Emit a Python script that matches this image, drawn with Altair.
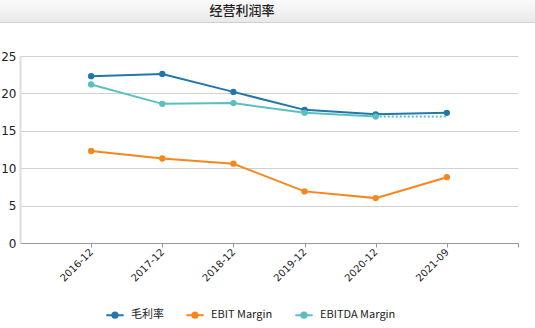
import altair as alt
import pandas as pd

periods = ["2016-12", "2017-12", "2018-12", "2019-12", "2020-12", "2021-09"]
gross = [22.3, 22.6, 20.2, 17.8, 17.2, 17.4]
ebit = [12.3, 11.3, 10.6, 6.9, 6.0, 8.8]
ebitda = [21.2, 18.6, 18.7, 17.4, 16.9, None]
series_names = ["毛利率", "EBIT Margin", "EBITDA Margin"]
colors = ["#2277a9", "#f7861c", "#5bbfbf"]

rows = []
for name, vals in zip(series_names, [gross, ebit, ebitda]):
    for i, (p, v) in enumerate(zip(periods, vals)):
        if v is not None:
            rows.append({"series": name, "idx": i + 1, "period": p, "value": v})
df = pd.DataFrame(rows)

# dotted carry-forward for the missing last EBITDA value
last_i = max(i for i, v in enumerate(ebitda) if v is not None)
dot_df = pd.DataFrame({
    "idx": [last_i + 1, len(periods)],
    "value": [ebitda[last_i], ebitda[last_i]],
})

label_expr = "[" + ",".join(f"'{p}'" for p in periods) + ",''][datum.value-1]"

W, H = 498, 187
font = "Noto Sans CJK SC"
num_font = "DejaVu Sans"

x = alt.X("idx:Q", scale=alt.Scale(domain=[0, 7], nice=False, zero=False),
          axis=alt.Axis(values=[1, 2, 3, 4, 5, 6, 7], labelExpr=label_expr,
                        labelAngle=-45, labelAlign="right", labelBaseline="middle",
                        labelFontSize=10, labelColor="#222", labelFont=num_font,
                        domainColor="#999", tickColor="#999", tickSize=4,
                        grid=False, title=None, labelPadding=3,
                        labelOverlap=False))
y = alt.Y("value:Q", scale=alt.Scale(domain=[0, 25], nice=False),
          axis=alt.Axis(values=[0, 5, 10, 15, 20, 25], labelFontSize=12,
                        labelColor="#222", labelFont=num_font, domainColor="#ddd",
                        domainWidth=2, ticks=False, gridColor="#d0d0d0",
                        title=None, labelPadding=4, labelOverlap=False,
                        labelFlush=False))

symbol_path = ("M-1,0L1,0M-0.3,0a0.3,0.3 0 1,0 0.6,0a0.3,0.3 0 1,0 -0.6,0")

cscale = alt.Scale(domain=series_names, range=colors)
color = alt.Color("series:N", scale=cscale,
                  legend=alt.Legend(orient="none", legendX=85, legendY=249,
                                    direction="horizontal", title=None,
                                    symbolType=symbol_path, symbolSize=300,
                                    symbolStrokeWidth=2, labelFontSize=11,
                                    labelFont=font, labelColor="#222",
                                    columnPadding=18, symbolOffset=0,
                                    labelOffset=6))

lines = alt.Chart(df).mark_line(strokeWidth=2).encode(x=x, y=y, color=color)
points = alt.Chart(df).mark_point(filled=True, size=40, opacity=1).encode(
    x=x, y=y, color=alt.Color("series:N", scale=cscale, legend=None))
dotted = alt.Chart(dot_df).mark_line(strokeWidth=2, strokeDash=[2, 2], color=colors[2]).encode(
    x=x, y=y)

header_df = pd.DataFrame({"t": ["经营利润率"]})
header = alt.Chart(header_df).mark_rect(
    color={"gradient": "linear", "x1": 0, "y1": 0, "x2": 0, "y2": 1,
           "stops": [{"offset": 0, "color": "#fafafa"}, {"offset": 1, "color": "#e9e9ea"}]},
    clip=False).encode(x=alt.value(-20), x2=alt.value(W + 17),
                       y=alt.value(-56), y2=alt.value(-34))
header_line = alt.Chart(header_df).mark_rule(color="#cfcfd3", strokeWidth=1, clip=False).encode(
    x=alt.value(-20), x2=alt.value(W + 17), y=alt.value(-33.5))
title = alt.Chart(header_df).mark_text(fontSize=13, fontWeight=500, font=font,
                                       color="#222", clip=False).encode(
    text="t:N", x=alt.value(222), y=alt.value(-45))

chart = alt.layer(lines, dotted, points, header, header_line, title).properties(
    width=W, height=H,
    autosize=alt.AutoSizeParams(type="none"),
    padding={"left": 20, "top": 56, "right": 17, "bottom": 85},
).configure(background="white").configure_view(stroke=None)

chart.save("out.html", embed_options={"renderer": "svg", "actions": False})
